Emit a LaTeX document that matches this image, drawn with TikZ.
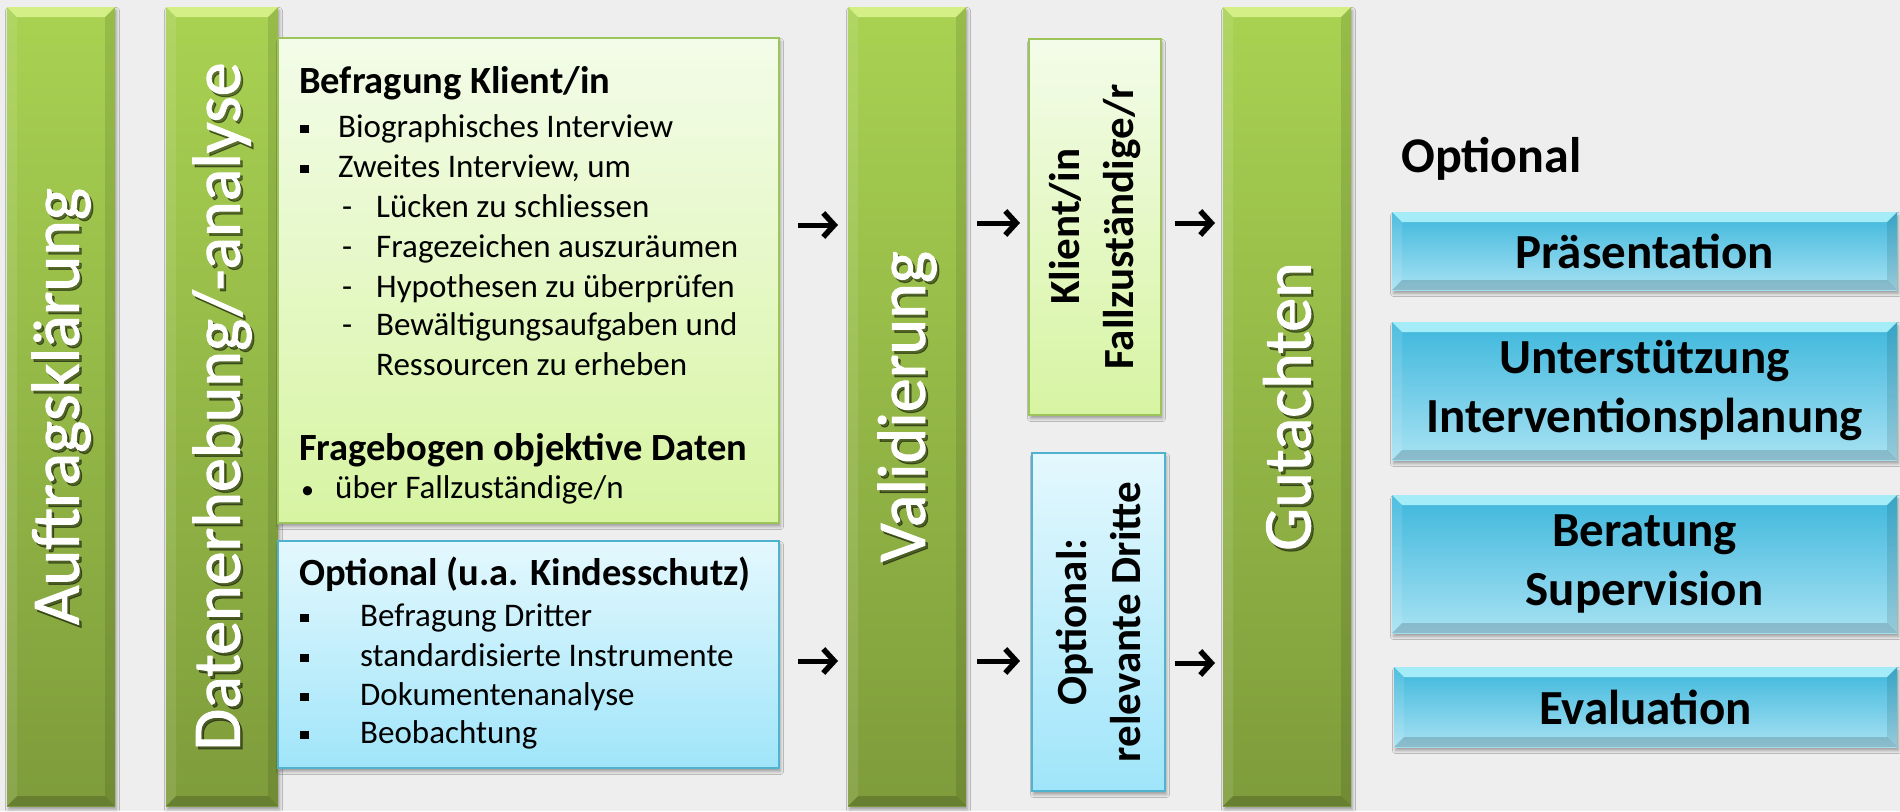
\documentclass[tikz,border=0pt]{standalone}
\usepackage{fontspec}
\setmainfont{Carlito}
\newfontfamily\barfont{Carlito}[FakeBold=1.4]
\usetikzlibrary{arrows.meta,shadows.blur}

\definecolor{bg}{HTML}{EEEEEE}
\definecolor{gTop}{HTML}{A9D252}
\definecolor{gBot}{HTML}{7E9C3B}
\definecolor{gBevel}{HTML}{D4EF86}
\definecolor{lgTop}{HTML}{F3FCE9}
\definecolor{lgBot}{HTML}{D7F4A2}
\definecolor{lgLine}{HTML}{9DC35B}
\definecolor{lbTop}{HTML}{E4F8FD}
\definecolor{lbBot}{HTML}{A0E5FA}
\definecolor{lbLine}{HTML}{4FB2CE}
\definecolor{bTop}{HTML}{3DB7DC}
\definecolor{bBot}{HTML}{A8E2F3}
\definecolor{bBevel}{HTML}{A5ECF9}

\newcommand{\fsz}[2]{\fontsize{#1}{#2}\selectfont}
\newcommand{\sqbullet}{\raisebox{4pt}{\rule{8.5pt}{8.5pt}}}
\newcommand{\dotbullet}{{\fsz{26}{26}•}}

\tikzset{
  % raised edge: light top strip, shaded right, bottom and left strips
  bevel/.style n args={4}{
    path picture={
      \path (path picture bounding box.north west) coordinate (bvA)
            (path picture bounding box.north east) coordinate (bvB)
            (path picture bounding box.south east) coordinate (bvC)
            (path picture bounding box.south west) coordinate (bvD);
      \fill[#1] (bvA) -- (bvB) -- ([shift={(-#2,-#2)}]bvB) -- ([shift={(#2,-#2)}]bvA) -- cycle;
      \fill[black,opacity=#3] (bvB) -- (bvC) -- ([shift={(-#2,#2)}]bvC) -- ([shift={(-#2,-#2)}]bvB) -- cycle;
      \fill[black,opacity=#4] (bvC) -- (bvD) -- ([shift={(#2,#2)}]bvD) -- ([shift={(-#2,#2)}]bvC) -- cycle;
      \fill[white,opacity=.10] (bvD) -- (bvA) -- ([shift={(#2,-#2)}]bvA) -- ([shift={(#2,#2)}]bvD) -- cycle;
    }},
  softshadow/.style={blur shadow={shadow xshift=1.5pt, shadow yshift=-3.5pt,
      shadow blur radius=3pt, shadow opacity=35}},
  gbar/.style={draw=none, inner sep=0, top color=gTop, bottom color=gBot,
      bevel={gBevel}{10pt}{0.10}{0.18}, softshadow},
  bbar/.style={draw=none, inner sep=0, top color=bTop, bottom color=bBot,
      bevel={bBevel}{10pt}{0.10}{0.16}, softshadow,
      font=\bfseries\fsz{49}{59}, align=center, text=black},
  bartext/.style={text=white, font=\barfont\fsz{68}{80}, rotate=90, inner sep=0},
  barshade/.style={text=black, text opacity=.45, font=\barfont\fsz{68}{80}, rotate=90, inner sep=0},
  lgbox/.style={draw=lgLine, line width=2pt, top color=lgTop, bottom color=lgBot, inner sep=0, softshadow},
  lbbox/.style={draw=lbLine, line width=2pt, top color=lbTop, bottom color=lbBot, inner sep=0, softshadow},
  hd/.style={anchor=base west, inner sep=0, font=\bfseries\fsz{38.5}{44}},
  ln/.style={anchor=base west, inner sep=0, font=\fsz{33}{40}},
  vtext/.style={rotate=90, align=center, inner sep=0, font=\bfseries\fsz{43}{54}},
  arr/.style={line width=5pt, -{Straight Barb[length=11pt,width=24pt,line width=5.5pt]}},
}

\begin{document}
\begin{tikzpicture}[x=1pt,y=-1pt]
\path[use as bounding box, fill=bg] (0,0) rectangle (1900,811);

% main process bars
\node[gbar, minimum width=108pt, minimum height=799pt] (auf) at (61,406.5) {};
\node[gbar, minimum width=112pt, minimum height=799pt] (dat) at (222,406.5) {};
\node[gbar, minimum width=118pt, minimum height=799pt] (val) at (907,406.5) {};
\node[gbar, minimum width=128pt, minimum height=799pt] (gut) at (1287,406.5) {};

\node[barshade] (aufS) at ([shift={(2.5pt,-3pt)}]auf.center) {Auftragsklärung};
\node[bartext]  (aufT) at (auf.center) {Auftragsklärung};
\node[barshade] (datS) at ([shift={(2.5pt,-3pt)}]dat.center) {Datenerhebung/-analyse};
\node[bartext]  (datT) at (dat.center) {Datenerhebung/-analyse};
\node[barshade] (valS) at ([shift={(2.5pt,-3pt)}]val.center) {Validierung};
\node[bartext]  (valT) at (val.center) {Validierung};
\node[barshade] (gutS) at ([shift={(2.5pt,-3pt)}]gut.center) {Gutachten};
\node[bartext]  (gutT) at (gut.center) {Gutachten};

% data collection boxes
\node[lgbox, minimum width=501pt, minimum height=485pt] (gbox) at (528.5,280.5) {};
\node[lbbox, minimum width=501pt, minimum height=227pt] (bbox) at (528.5,654.5) {};

\node[hd] (g0) at (299,93) {Befragung Klient/in};
\node[ln] (g1) at (300,137) {\makebox[38pt][l]{\sqbullet}Biographisches Interview};
\node[ln] (g2) at (300,177) {\makebox[38pt][l]{\sqbullet}Zweites Interview, um};
\node[ln] (g3) at (342,217) {\makebox[34pt][l]{-}Lücken zu schliessen};
\node[ln] (g4) at (342,257) {\makebox[34pt][l]{-}Fragezeichen auszuräumen};
\node[ln] (g5) at (342,297) {\makebox[34pt][l]{-}Hypothesen zu überprüfen};
\node[ln] (g6) at (342,335) {\makebox[34pt][l]{-}Bewältigungsaufgaben und};
\node[ln] (g7) at (376,375) {Ressourcen zu erheben};
\node[hd] (g8) at (299,460) {Fragebogen objektive Daten};
\node[ln] (g9) at (301,498) {\makebox[34pt][l]{\dotbullet}über Fallzuständige/n};

\node[hd] (b0) at (299,585) {Optional (u.a. Kindesschutz)};
\node[ln] (b1) at (300,626) {\makebox[60pt][l]{\sqbullet}Befragung Dritter};
\node[ln] (b2) at (300,666) {\makebox[60pt][l]{\sqbullet}standardisierte Instrumente};
\node[ln] (b3) at (300,705) {\makebox[60pt][l]{\sqbullet}Dokumentenanalyse};
\node[ln] (b4) at (300,743) {\makebox[60pt][l]{\sqbullet}Beobachtung};

% validation partners
\node[lgbox, minimum width=132pt, minimum height=376pt] (kbox) at (1095,227) {};
\node[lbbox, minimum width=133pt, minimum height=338pt] (dbox) at (1098.5,622) {};
\node[vtext] (kT) at (kbox.center) {Klient/in\\Fallzuständige/r};
\node[vtext] (dT) at (dbox.center) {Optional:\\relevante Dritte};

% optional follow-ups
\node[anchor=base west, inner sep=0, font=\bfseries\fsz{50}{60}] (opt) at (1401,172) {Optional};
\node[bbar, minimum width=505pt, minimum height=78pt]  (pra) at (1644.5,251) {Präsentation};
\node[bbar, minimum width=505pt, minimum height=138pt] (unt) at (1644.5,391) {Unterstützung\\Interventionsplanung};
\node[bbar, minimum width=505pt, minimum height=138pt] (ber) at (1644.5,564) {Beratung\\Supervision};
\node[bbar, minimum width=503pt, minimum height=80pt]  (eva) at (1645.5,707) {Evaluation};

% arrows
\coordinate (a1s) at (798,225); \coordinate (a1e) at (838,225);
\coordinate (a2s) at (798,661); \coordinate (a2e) at (838,661);
\coordinate (a3s) at (977,223); \coordinate (a3e) at (1020,223);
\coordinate (a4s) at (977,661); \coordinate (a4e) at (1020,661);
\coordinate (a5s) at (1175,223); \coordinate (a5e) at (1215,223);
\coordinate (a6s) at (1175,663); \coordinate (a6e) at (1215,663);
\draw[arr] (a1s) -- (a1e);
\draw[arr] (a2s) -- (a2e);
\draw[arr] (a3s) -- (a3e);
\draw[arr] (a4s) -- (a4e);
\draw[arr] (a5s) -- (a5e);
\draw[arr] (a6s) -- (a6e);
\end{tikzpicture}
\end{document}
